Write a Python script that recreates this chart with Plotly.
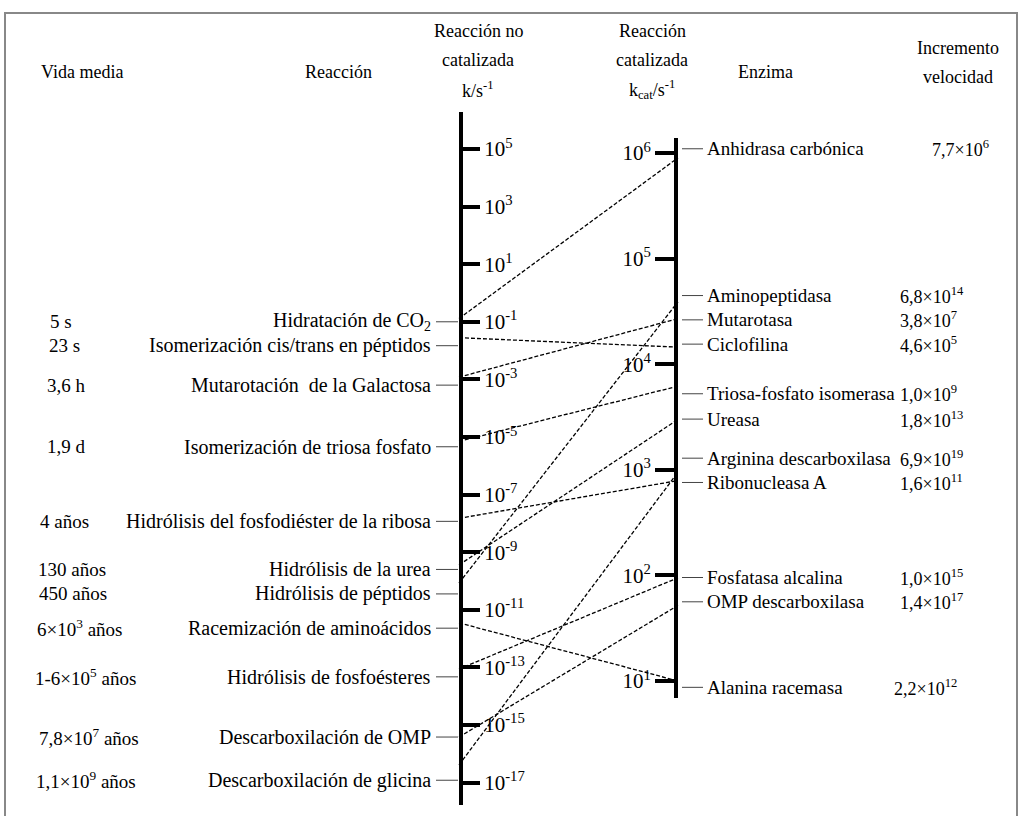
import plotly.graph_objects as go
import numpy as np

# ---------------- data ----------------
reactions = [
    "Hidratación de CO<sub>2</sub>",
    "Isomerización cis/trans en péptidos",
    "Mutarotación  de la Galactosa",
    "Isomerización de triosa fosfato",
    "Hidrólisis del fosfodiéster de la ribosa",
    "Hidrólisis de la urea",
    "Hidrólisis de péptidos",
    "Racemización de aminoácidos",
    "Hidrólisis de fosfoésteres",
    "Descarboxilación de OMP",
    "Descarboxilación de glicina",
]
half_lives = [
    "5 s", "23 s", "3,6 h", "1,9 d", "4 años", "130 años", "450 años",
    "6×10<sup>3</sup> años", "1-6×10<sup>5</sup> años",
    "7,8×10<sup>7</sup> años", "1,1×10<sup>9</sup> años",
]
# uncatalysed rate constants k (s^-1)
k_uncat = [1.3e-1, 2.8e-2, 1.2e-3, 7.0e-6, 1.5e-8, 3.6e-10, 8.5e-11,
           3.5e-12, 8.7e-14, 3.8e-16, 4.1e-17]

enzymes = [
    "Anhidrasa carbónica", "Aminopeptidasa", "Mutarotasa", "Ciclofilina",
    "Triosa-fosfato isomerasa", "Ureasa", "Arginina descarboxilasa",
    "Ribonucleasa A", "Fosfatasa alcalina", "OMP descarboxilasa",
    "Alanina racemasa",
]
# catalysed rate constants kcat (s^-1), same order as enzymes
k_cat = [9.0e5, 3.9e4, 2.7e4, 1.45e4, 6.2e3, 3.0e3, 9.5e2, 7.9e2,
         95, 52, 10]
rate_increase = [
    "7,7×10<sup>6</sup>", "6,8×10<sup>14</sup>", "3,8×10<sup>7</sup>",
    "4,6×10<sup>5</sup>", "1,0×10<sup>9</sup>", "1,8×10<sup>13</sup>",
    "6,9×10<sup>19</sup>", "1,6×10<sup>11</sup>", "1,0×10<sup>15</sup>",
    "1,4×10<sup>17</sup>", "2,2×10<sup>12</sup>",
]
# which enzyme catalyses each reaction (index into enzymes)
pairing = [0, 3, 2, 4, 7, 5, 1, 10, 8, 9, 6]

left_tick_exp = [5, 3, 1, -1, -3, -5, -7, -9, -11, -13, -15, -17]
right_tick_exp = [6, 5, 4, 3, 2, 1]

# ---------------- layout helpers ----------------
W, H = 1020, 816
FONT = "Times New Roman"

def px_to_paper_y(py):
    return 1 - py / H

# axis geometry (pixel frame of the page)
LEFT_X, RIGHT_X = 459, 678
left_dom = [px_to_paper_y(805), px_to_paper_y(112)]
left_rng = [-17.78, 6.285]
right_dom = [px_to_paper_y(698), px_to_paper_y(138)]
right_rng = [0.839, 6.142]

def to_paper(value, dom, rng):
    f = (np.log10(value) - rng[0]) / (rng[1] - rng[0])
    return dom[0] + f * (dom[1] - dom[0])

# label placement (in axis exponent units)
reaction_label_exp = [-1.0, -1.83, -3.2, -5.34, -7.93, -9.6, -10.45,
                      -11.64, -13.33, -15.42, -16.92]
enzyme_label_exp = [6.04, 4.65, 4.42, 4.19, 3.72, 3.48, 3.11, 2.88,
                    1.98, 1.75, 0.94]
half_life_x = [48, 47, 45, 45, 38, 36, 37, 35, 33, 37, 34]
increase_x = [930, 898, 898, 898, 898, 898, 898, 898, 898, 898, 892]

reaction_font = dict(family=FONT, size=20, color="black")
half_font = dict(family=FONT, size=19, color="black")
enzyme_font = dict(family=FONT, size=19, color="black")
incr_font = dict(family=FONT, size=18, color="black")
tick_font = dict(family=FONT, size=21, color="black")
head_font = dict(family=FONT, size=18, color="black")

fig = go.Figure()

# invisible anchors so both log axes are instantiated
fig.add_trace(go.Scatter(x=[0.5], y=[10.0 ** -1], mode="markers",
                         marker=dict(opacity=0), xaxis="x", yaxis="y",
                         hoverinfo="skip", showlegend=False))
fig.add_trace(go.Scatter(x=[0.5], y=[10.0 ** 3], mode="markers",
                         marker=dict(opacity=0), xaxis="x2", yaxis="y2",
                         hoverinfo="skip", showlegend=False))

# dashed connectors from uncatalysed k to enzyme kcat
for i, k in enumerate(k_uncat):
    j = pairing[i]
    y0 = to_paper(k, left_dom, left_rng)
    y1 = to_paper(k_cat[j], right_dom, right_rng)
    fig.add_trace(go.Scatter(
        x=[LEFT_X, RIGHT_X], y=[y0, y1], mode="lines", xaxis="x3", yaxis="y3",
        line=dict(color="black", width=1.3, dash="4px,2px"),
        hoverinfo="skip", showlegend=False))

annotations = []
shapes = []

# reaction labels on the left with short leader lines
for i, name in enumerate(reactions):
    yy = to_paper(10.0 ** reaction_label_exp[i], left_dom, left_rng)
    annotations.append(dict(x=433, y=yy, xref="x3", yref="paper", text=name,
                            showarrow=False, xanchor="right", yanchor="middle",
                            font=reaction_font))
    annotations.append(dict(x=half_life_x[i], y=yy, xref="x3", yref="paper",
                            text=half_lives[i], showarrow=False,
                            xanchor="left", yanchor="middle", font=half_font))
    shapes.append(dict(type="line", xref="x3", yref="paper", x0=436, x1=458,
                       y0=yy, y1=yy, line=dict(color="#444", width=1)))

# enzyme labels on the right with leader lines and rate increase
for j, name in enumerate(enzymes):
    yy = to_paper(10.0 ** enzyme_label_exp[j], right_dom, right_rng)
    annotations.append(dict(x=705, y=yy, xref="x3", yref="paper", text=name,
                            showarrow=False, xanchor="left", yanchor="middle",
                            font=enzyme_font))
    annotations.append(dict(x=increase_x[j], y=yy, xref="x3", yref="paper",
                            text=rate_increase[j], showarrow=False,
                            xanchor="left", yanchor="middle", font=incr_font))
    shapes.append(dict(type="line", xref="x3", yref="paper", x0=682, x1=703,
                       y0=yy, y1=yy, line=dict(color="#444", width=1)))

# column headers
headers = [
    (82, 72, "Vida media"),
    (338, 72, "Reacción"),
    (478, 31, "Reacción no"),
    (478, 60, "catalizada"),
    (478, 89, "k/s<sup>-1</sup>"),
    (652, 31, "Reacción"),
    (652, 60, "catalizada"),
    (652, 89, "k<sub>cat</sub>/s<sup>-1</sup>"),
    (765, 72, "Enzima"),
    (958, 48, "Incremento"),
    (958, 77, "velocidad"),
]
for hx, hy, txt in headers:
    annotations.append(dict(x=hx, y=px_to_paper_y(hy), xref="x3",
                            yref="paper", text=txt, showarrow=False,
                            xanchor="center", yanchor="middle",
                            font=head_font))

# outer frame
shapes.append(dict(type="rect", xref="paper", yref="paper",
                   x0=5 / W, x1=1017 / W, y0=-0.01, y1=px_to_paper_y(13),
                   line=dict(color="#888", width=2)))

fig.update_layout(
    width=W, height=H,
    margin=dict(l=0, r=0, t=0, b=0),
    paper_bgcolor="white", plot_bgcolor="rgba(0,0,0,0)",
    showlegend=False,
    font=dict(family=FONT, size=19, color="black"),
    # left scale: axis line sits on the right edge of this x-domain
    xaxis=dict(domain=[0, LEFT_X / W], range=[0, 1], visible=False,
               fixedrange=True),
    yaxis=dict(
        type="log", range=left_rng, domain=left_dom, anchor="x", side="right",
        showline=True, linewidth=4, linecolor="black",
        ticks="outside", ticklen=17, tickwidth=4, tickcolor="black",
        tickvals=[10.0 ** e for e in left_tick_exp],
        ticktext=[f"10<sup>{e}</sup>" for e in left_tick_exp],
        tickfont=tick_font, showgrid=False, zeroline=False, fixedrange=True,
    ),
    # right scale: axis line sits on the left edge of this x-domain
    xaxis2=dict(domain=[RIGHT_X / W, 1], range=[0, 1], visible=False,
                fixedrange=True),
    yaxis2=dict(
        type="log", range=right_rng, domain=right_dom, anchor="x2",
        side="left",
        showline=True, linewidth=4, linecolor="black",
        ticks="outside", ticklen=19, tickwidth=4, tickcolor="black",
        tickvals=[10.0 ** e for e in right_tick_exp],
        ticktext=[f"10<sup>{e}</sup>" for e in right_tick_exp],
        tickfont=tick_font, showgrid=False, zeroline=False, fixedrange=True,
    ),
    # full-page frame for connectors and labels
    xaxis3=dict(domain=[0, 1], range=[0, W], visible=False, fixedrange=True),
    yaxis3=dict(range=[0, 1], domain=[0, 1], anchor="x3", visible=False,
                fixedrange=True),
    annotations=annotations,
    shapes=shapes,
)

fig.write_html("out.html")
